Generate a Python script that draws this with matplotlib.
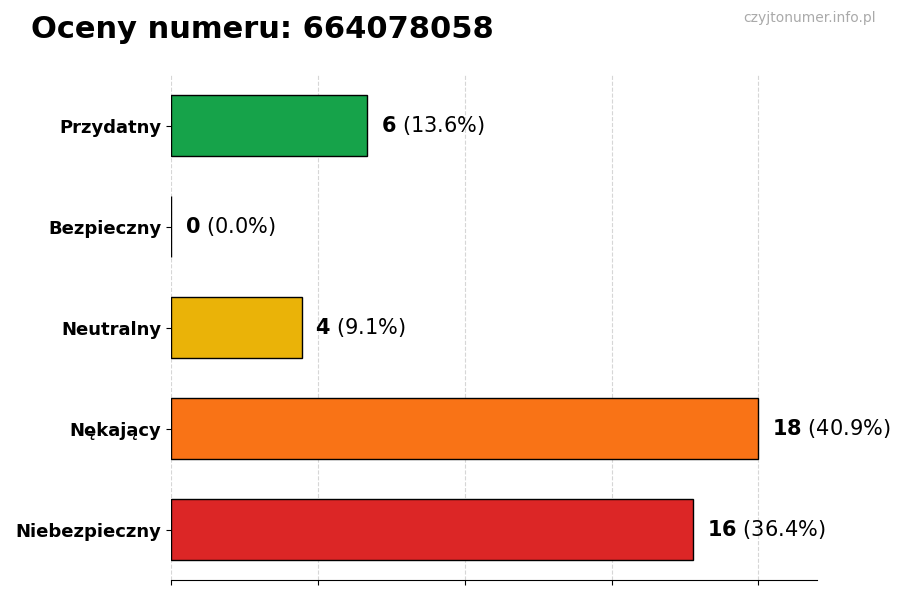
import matplotlib.pyplot as plt

labels = ['Przydatny', 'Bezpieczny', 'Neutralny', 'Nękający', 'Niebezpieczny']
counts = [6, 0, 4, 18, 16]
colors = ['#16a34a', '#6b7280', '#eab308', '#f97316', '#dc2626']
total = sum(counts)

fig = plt.figure(figsize=(9, 6), dpi=100)
ax = fig.add_axes([0.19, 0.033, 0.718, 0.842])

ypos = list(range(len(labels)))[::-1]
ax.barh(ypos, counts, height=0.6, color=colors, edgecolor='black', linewidth=1)

xmax = max(counts) * 1.1
ax.set_xlim(0, xmax)
ax.set_ylim(-0.5, 4.5)
ax.set_xticks([0, 4.5, 9, 13.5, 18])
ax.set_xticklabels([])
ax.set_yticks(ypos)
ax.set_yticklabels(labels, fontsize=13, fontweight='bold')
ax.grid(axis='x', linestyle='--', color='#cccccc', alpha=0.8)
ax.set_axisbelow(True)
for s in ['top', 'right', 'left']:
    ax.spines[s].set_visible(False)

for y, c in zip(ypos, counts):
    pct = c / total * 100
    ax.annotate(f'$\\bf{{{c}}}$ ({pct:.1f}%)', (c, y), xytext=(10, 0),
                textcoords='offset points', va='center', fontsize=15)

fig.text(0.034, 0.95, 'Oceny numeru: 664078058', fontsize=22, fontweight='bold', va='center')
fig.text(0.973, 0.97, 'czyjtonumer.info.pl', fontsize=10, color='#aaaaaa', ha='right', va='center')

fig.savefig('out.png')
